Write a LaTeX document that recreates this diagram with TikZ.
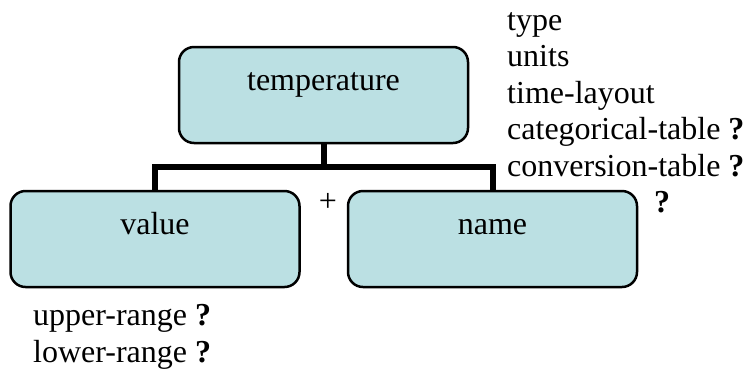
\documentclass[tikz,border=0pt]{standalone}
\usepackage{fontspec}
\setmainfont{Liberation Serif}
\usepackage{tikz}
\usetikzlibrary{positioning}
\usetikzlibrary{calc}
\definecolor{boxfill}{RGB}{187,224,227}
\tikzstyle{block}=[draw,fill=boxfill,line width=2.5pt,rounded corners=15pt,minimum width=289pt,inner ysep=0pt,text height=43pt,text depth=53pt]
\tikzstyle{branch}=[line width=6pt]
\tikzstyle{attr}=[anchor=base west,inner sep=0pt]

\begin{document}
\begin{tikzpicture}[x=1pt,y=-1pt,font=\fontsize{32}{36.5}\selectfont]
\useasboundingbox (0,0) rectangle (751,373);
\node [block] (temp) at (323.5,95) {temperature};
\node [block] (value) at (155,239) {value};
\node [block] (name) at (492.5,239) {name};

\coordinate (bar) at (323.5,167);
\draw [branch] (temp.south) -- (bar);
\draw [branch] (value.north) |- (bar) -| (name.north);

\node at (328,211) [anchor=base,inner sep=0pt] (plus) {+};
\node at (662,212) [anchor=base,inner sep=0pt] (opt) {\textbf{?}};

\foreach \txt [count=\i] in {type,units,time-layout,categorical-table \textbf{?},conversion-table \textbf{?}}
  \node [attr] (a\i) at (507,{30+(\i-1)*36.5}) {\txt};

\node [attr] (up) at (33,325) {upper-range \textbf{?}};
\node [attr] (low) at (33,362) {lower-range \textbf{?}};

\end{tikzpicture}
\end{document}
